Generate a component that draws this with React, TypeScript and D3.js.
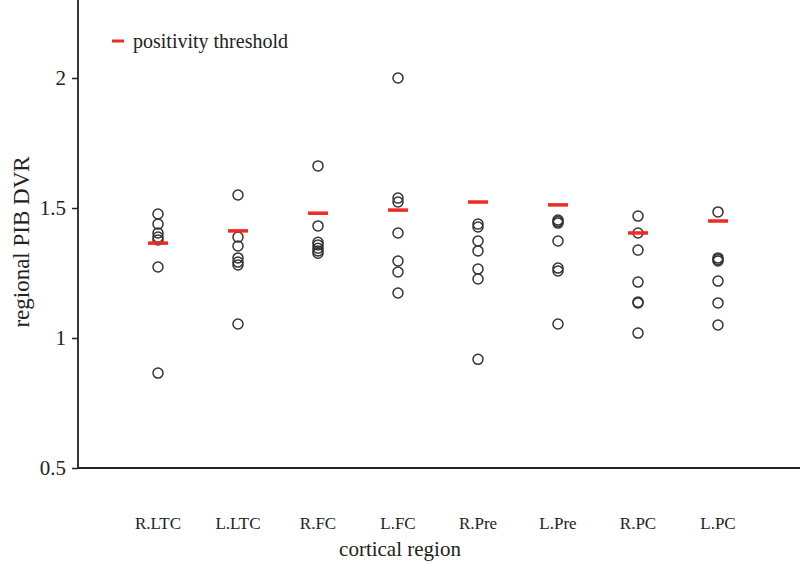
import React, { useRef, useEffect } from 'react';
import * as d3 from 'd3';

// cortical regions on the x axis
const regions = ['R.LTC', 'L.LTC', 'R.FC', 'L.FC', 'R.Pre', 'L.Pre', 'R.PC', 'L.PC'];

// regional PIB DVR per subject, one array per region
const rLTC = [1.477, 1.438, 1.404, 1.388, 1.377, 1.273, 0.865];
const lLTC = [1.55, 1.388, 1.354, 1.308, 1.292, 1.281, 1.054];
const rFC = [1.662, 1.431, 1.368, 1.358, 1.345, 1.335, 1.326];
const lFC = [2.0, 1.538, 1.523, 1.404, 1.296, 1.254, 1.173];
const rPre = [1.438, 1.427, 1.373, 1.335, 1.265, 1.227, 0.918];
const lPre = [1.454, 1.448, 1.442, 1.373, 1.269, 1.258, 1.054];
const rPC = [1.469, 1.404, 1.338, 1.215, 1.138, 1.135, 1.019];
const lPC = [1.485, 1.308, 1.302, 1.296, 1.219, 1.135, 1.05];

// positivity threshold per region
const thresholds = [1.365, 1.412, 1.48, 1.492, 1.523, 1.512, 1.404, 1.45];

const yTicks = [0.5, 1, 1.5, 2];

const values = [rLTC, lLTC, rFC, lFC, rPre, lPre, rPC, lPC];

const width = 800;
const height = 564;
const font = '"Liberation Serif", "Times New Roman", serif';

const App = () => {
    const svgRef = useRef(null);

    useEffect(() => {
        const svg = d3.select(svgRef.current);
        svg.selectAll('*').remove();

        const margin = { top: 0, right: 2, bottom: 96, left: 78 };

        const x = d3.scalePoint()
            .domain(regions)
            .range([margin.left, width - margin.right])
            .padding(1);

        const y = d3.scaleLinear()
            .domain([0.5, 2.3])
            .range([height - margin.bottom, margin.top]);

        // y axis
        const yAxis = d3.axisLeft(y)
            .tickValues(yTicks)
            .tickFormat(d => String(d))
            .tickSize(6)
            .tickPadding(6);

        const gy = svg.append('g')
            .attr('transform', `translate(${margin.left},0)`)
            .call(yAxis);
        gy.select('.domain').remove();
        gy.selectAll('.tick line').attr('stroke', '#222').attr('stroke-width', 1.5);
        gy.selectAll('text')
            .style('font-family', font)
            .style('font-size', '21px')
            .style('fill', '#222');

        svg.append('line')
            .attr('x1', margin.left).attr('x2', margin.left)
            .attr('y1', margin.top).attr('y2', height - margin.bottom)
            .attr('stroke', '#222').attr('stroke-width', 1.8);

        // x axis
        svg.append('line')
            .attr('x1', margin.left).attr('x2', width)
            .attr('y1', height - margin.bottom).attr('y2', height - margin.bottom)
            .attr('stroke', '#222').attr('stroke-width', 1.8);

        svg.append('g')
            .selectAll('text')
            .data(regions)
            .enter()
            .append('text')
            .attr('x', d => x(d))
            .attr('y', 529)
            .attr('text-anchor', 'middle')
            .style('font-family', font)
            .style('font-size', '17px')
            .style('fill', '#222')
            .text(d => d);

        // axis titles
        svg.append('text')
            .attr('x', 400)
            .attr('y', 556)
            .attr('text-anchor', 'middle')
            .style('font-family', font)
            .style('font-size', '21px')
            .style('fill', '#222')
            .text('cortical region');

        svg.append('text')
            .attr('transform', 'translate(29,242) rotate(-90)')
            .attr('text-anchor', 'middle')
            .style('font-family', font)
            .style('font-size', '23px')
            .style('fill', '#222')
            .text('regional PIB DVR');

        // points
        const points = regions.flatMap((r, i) => values[i].map(v => ({ region: r, value: v })));

        svg.append('g')
            .selectAll('circle')
            .data(points)
            .enter()
            .append('circle')
            .attr('cx', d => x(d.region))
            .attr('cy', d => y(d.value))
            .attr('r', 5)
            .attr('fill', 'none')
            .attr('stroke', '#333')
            .attr('stroke-width', 1.5);

        // thresholds
        svg.append('g')
            .selectAll('line')
            .data(regions)
            .enter()
            .append('line')
            .attr('x1', d => x(d) - 10)
            .attr('x2', d => x(d) + 10)
            .attr('y1', (d, i) => y(thresholds[i]))
            .attr('y2', (d, i) => y(thresholds[i]))
            .attr('stroke', '#ee2a24')
            .attr('stroke-width', 3.5);

        // legend
        svg.append('line')
            .attr('x1', 112).attr('x2', 124)
            .attr('y1', 41).attr('y2', 41)
            .attr('stroke', '#ee2a24')
            .attr('stroke-width', 3);

        svg.append('text')
            .attr('x', 133)
            .attr('y', 48)
            .style('font-family', font)
            .style('font-size', '20px')
            .style('fill', '#222')
            .text('positivity threshold');
    }, []);

    return (
        <div style={{ position: 'absolute', left: 0, top: 0, width, height, background: '#fff' }}>
            <svg ref={svgRef} width={width} height={height} style={{ display: 'block' }}></svg>
        </div>
    );
};

export default App;
